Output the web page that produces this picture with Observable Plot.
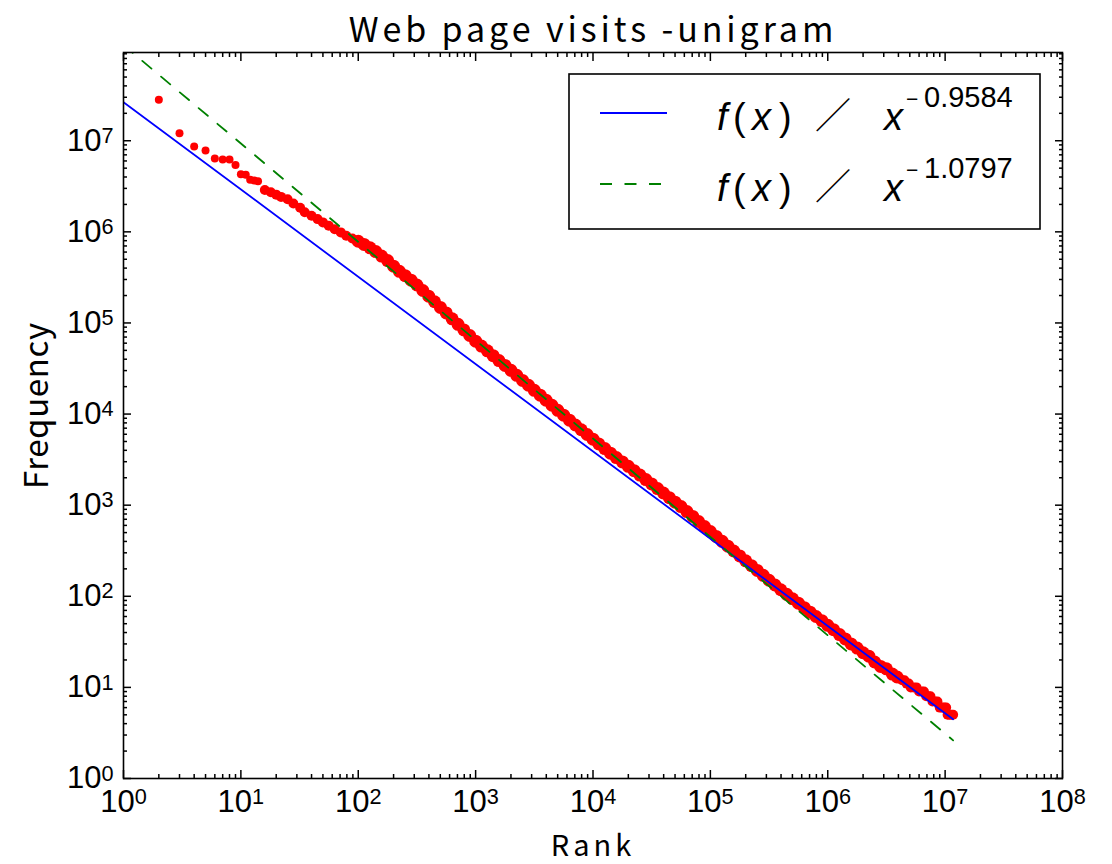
<!DOCTYPE html>
<html><head><meta charset="utf-8">
<script src="https://cdn.jsdelivr.net/npm/d3@7"></script>
<script src="https://cdn.jsdelivr.net/npm/@observablehq/plot@0.6"></script>
<style>body{margin:0;background:#fff}</style>
</head><body><div id="chart"></div>
<script>
const title = "Web page visits -unigram";
const xLabel = "Rank";
const yLabel = "Frequency";

// rank / frequency pairs
const ranks = [
  1,2,3,4,5,6,7,8,9,10,11,12,13,14,
  16,18,20,22,25,28,32,35,40,45,
  50,56,63,71,79,89,100,112,126,141,
  158,178,200,224,251,282,316,355,398,447,
  501,562,631,708,794,891,1000,1120,1260,1410,
  1580,1780,2000,2240,2510,2820,3160,3550,3980,4470,
  5010,5620,6310,7080,7940,8910,10000,11200,12600,14100,
  15800,17800,20000,22400,25100,28200,31600,35500,39800,44700,
  50100,56200,63100,70800,79400,89100,100000,112000,126000,141000,
  158000,178000,200000,224000,251000,282000,316000,355000,398000,447000,
  501000,562000,631000,708000,794000,891000,1000000,1120000,1260000,1410000,
  1580000,1780000,2000000,2240000,2510000,2820000,3160000,3550000,3900000,
  4300000,4500000,4700000,4900000,5100000,5400000,5700000,6000000,6300000,6600000,
  6900000,7200000,7500000,7800000,8200000,8600000,9000000,9400000,9800000,10200000,
  10500000,10900000,11300000,11700000
];
const freqs = [
  1.0e8,2.82e7,1.21e7,8.66e6,7.82e6,6.40e6,6.24e6,6.24e6,5.40e6,4.30e6,4.24e6,3.73e6,3.67e6,3.60e6,
  2.88e6,2.72e6,2.56e6,2.42e6,2.28e6,2.05e6,1.84e6,1.64e6,1.50e6,1.38e6,
  1.27e6,1.17e6,1.07e6,986000,908000,845000,789000,728000,667000,607000,
  542000,484000,420000,369000,330000,295000,261000,227000,197000,171000,
  148000,129000,111000,96600,83900,72800,63100,55800,49400,43700,
  38600,34200,30200,26600,23400,20700,18200,16100,14200,12500,
  11000,9730,8570,7590,6730,5970,5300,4700,4180,3720,
  3330,2980,2670,2390,2140,1910,1710,1520,1360,1210,
  1080,964,851,752,662,583,514,454,401,355,
  314,277,245,217,192,170,150,133,118,105,
  94,84,75,67,60,54,48,43,38,34,
  30,27,24,22,19,17,16,14,13,
  12,12,11,11,10,10,10,9,9,9,
  8,8,8,7,7,7,6,6,6,6,
  5,5,5,5
];

// fitted power-law lines (end points)
const fitRanks = [1, 11700000];
const fitBlue = [2.65e7, 4.47];
const fitGreen = [1.12e8, 2.62];
const exponents = ["0.9584", "1.0797"];
const fitColors = ["#0000ff", "#008000"];

const xMajor = [1,10,100,1e3,1e4,1e5,1e6,1e7,1e8];
const yMajor = [1,10,100,1e3,1e4,1e5,1e6,1e7];
const xDomain = [1, 1e8];
const yDomain = [1, 9.3e7];

const minorOf = (dom) => {
  const out = [];
  for (let p = 1; p <= 1e8; p *= 10) for (let m = 2; m <= 9; m++) {
    const v = m * p; if (v > dom[0] && v < dom[1]) out.push(v);
  }
  return out;
};
const xMinor = minorOf(xDomain);
const yMinor = minorOf(yDomain);

const points = ranks.map((r, i) => ({rank: r, freq: freqs[i]}));
const blueLine = fitRanks.map((r, i) => ({rank: r, freq: fitBlue[i]}));
const greenLine = fitRanks.map((r, i) => ({rank: r, freq: fitGreen[i]}));
const expOf = (d) => String(Math.round(Math.log10(d)));
// dense band of overlapping markers looks thicker than isolated ones
const dotR = (d) => d.rank < 15 ? 4 : d.rank < 90 ? 5 : d.freq <= 12 ? 5 : 6.5;

const TW = 1.5;
const CJK = "Noto Sans CJK JP";
const chart = Plot.plot({
  width: 1112, height: 864,
  marginLeft: 123, marginRight: 50, marginTop: 52, marginBottom: 86,
  x: {type: "log", domain: xDomain},
  y: {type: "log", domain: yDomain},
  r: {type: "identity"},
  style: {fontFamily: "Liberation Sans, Arial, sans-serif", fontSize: "31px", color: "black", background: "white"},
  marks: [
    Plot.dot(points, {x: "rank", y: "freq", r: dotR, fill: "#ff0000", clip: true}),
    Plot.line(blueLine, {x: "rank", y: "freq", stroke: fitColors[0], strokeWidth: 1.8, clip: true}),
    Plot.line(greenLine, {x: "rank", y: "freq", stroke: fitColors[1], strokeWidth: 1.8, strokeDasharray: "12,12.5", clip: true}),
    // tick labels
    Plot.axisX(xMajor, {anchor: "bottom", tickSize: 0, tickPadding: 11, tickFormat: expOf, label: null}),
    Plot.axisY(yMajor, {anchor: "left", tickSize: 0, tickPadding: 10, tickFormat: expOf, label: null}),
    // inward ticks, all four sides
    Plot.axisX(xMajor, {anchor: "bottom", tickSize: -8, fill: "none", strokeWidth: TW, label: null}),
    Plot.axisX(xMinor, {anchor: "bottom", tickSize: -4, fill: "none", strokeWidth: TW, label: null}),
    Plot.axisX(xMajor, {anchor: "top", tickSize: -8, fill: "none", strokeWidth: TW, label: null}),
    Plot.axisX(xMinor, {anchor: "top", tickSize: -4, fill: "none", strokeWidth: TW, label: null}),
    Plot.axisY(yMajor, {anchor: "left", tickSize: -8, fill: "none", strokeWidth: TW, label: null}),
    Plot.axisY(yMinor, {anchor: "left", tickSize: -4, fill: "none", strokeWidth: TW, label: null}),
    Plot.axisY(yMajor, {anchor: "right", tickSize: -8, fill: "none", strokeWidth: TW, label: null}),
    Plot.axisY(yMinor, {anchor: "right", tickSize: -4, fill: "none", strokeWidth: TW, label: null}),
    Plot.frame({stroke: "black", strokeWidth: 1.6}),
    // title and axis labels
    Plot.text([title], {text: d => d, frameAnchor: "top", textAnchor: "middle", dy: -11, lineAnchor: "bottom", fontSize: 34, fontFamily: CJK}),
    Plot.text([xLabel], {text: d => d, frameAnchor: "bottom", textAnchor: "middle", dy: 68, lineAnchor: "middle", fontSize: 29, fontFamily: CJK}),
    Plot.text([yLabel], {text: d => d, frameAnchor: "left", textAnchor: "middle", dx: -76, dy: -10, rotate: -90, lineAnchor: "bottom", fontSize: 33, fontFamily: CJK})
  ]
});
document.getElementById("chart").appendChild(chart);

const svg = d3.select(chart);
// superscript exponents for the 10^n tick labels
svg.selectAll('g[aria-label="x-axis tick label"] text, g[aria-label="y-axis tick label"] text').each(function () {
  const e = this.textContent;
  if (!e) return;
  this.textContent = "10";
  d3.select(this).append("tspan").attr("dy", "-0.36em").attr("font-size", "70%").text(e);
});
// wide letter spacing of the title and axis labels
const spacing = new Map([[title, 3.9], [xLabel, 4], [yLabel, 0.6]]);
svg.selectAll('g[aria-label="text"] text').each(function () {
  const sp = spacing.get(this.textContent);
  if (sp !== undefined) d3.select(this).attr("letter-spacing", sp);
});

// legend
const SANS = "Liberation Sans, Arial, sans-serif";
const lg = svg.append("g").attr("text-anchor", "start");
lg.append("rect").attr("x", 569).attr("y", 74).attr("width", 471).attr("height", 155)
  .attr("fill", "white").attr("stroke", "black").attr("stroke-width", 1.6);
const rowY = [130, 201];
exponents.forEach((ex, i) => {
  const y0 = rowY[i];
  const ly = y0 - 17;
  const ln = lg.append("line").attr("x1", 600).attr("x2", 667).attr("y1", ly).attr("y2", ly)
    .attr("stroke", fitColors[i]).attr("stroke-width", 1.8);
  if (i === 1) ln.attr("stroke-dasharray", "12,12.5");
  const t = lg.append("text").attr("y", y0).attr("text-anchor", "start")
    .attr("font-family", SANS).attr("font-size", 38).attr("fill", "black");
  t.append("tspan").attr("x", 717).attr("font-style", "italic").text("f");
  t.append("tspan").attr("x", 733).text("(");
  t.append("tspan").attr("x", 752).attr("font-style", "italic").text("x");
  t.append("tspan").attr("x", 779).text(")");
  t.append("tspan").attr("x", 884).attr("font-style", "italic").text("x");
  lg.append("text").attr("x", 815).attr("y", y0 - 1).attr("text-anchor", "start")
    .attr("font-family", CJK).attr("font-size", 36).attr("fill", "black").text("\uFF0F");
  const s = lg.append("text").attr("y", y0 - 23).attr("text-anchor", "start")
    .attr("font-family", SANS).attr("font-size", 29).attr("fill", "black");
  s.append("tspan").attr("x", 906).attr("font-size", 21).attr("dy", -1).text("\u2212");
  s.append("tspan").attr("x", 924).attr("dy", 1).text(ex);
});
</script>
</body></html>
